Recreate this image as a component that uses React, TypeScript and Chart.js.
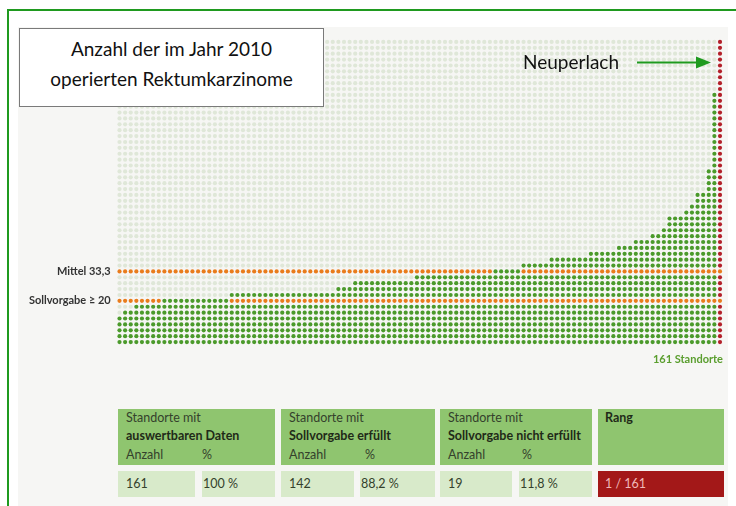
import React, { useEffect, useRef } from "react";
import { Chart, registerables } from "chart.js";

Chart.register(...registerables);

// ---- data ----
// height (number of dots) of each column, left to right; last column = Neuperlach
const columnHeights = [
  5, 6, 6, 7, 7, 7, 7, 7, 8, 8,
  8, 8, 8, 8, 8, 8, 8, 8, 8, 8,
  9, 9, 9, 9, 9, 9, 9, 9, 9, 9,
  9, 9, 9, 9, 9, 9, 9, 9, 9, 10,
  10, 10, 11, 11, 11, 11, 11, 11, 11, 11,
  11, 11, 11, 12, 12, 12, 12, 12, 12, 12,
  12, 12, 12, 12, 12, 12, 12, 13, 13, 13,
  13, 13, 14, 14, 14, 14, 14, 15, 15, 15,
  15, 15, 15, 15, 16, 16, 16, 16, 16, 17,
  17, 17, 18, 18, 18, 19, 19, 20, 22, 22,
  22, 23, 24, 26, 26, 30, 43, 52,
];
const highlightColumn = 107;
const gridRows = 52;
const lineRows = [7, 12];
const lineLabels = ["Sollvorgabe ≥ 20", "Mittel 33,3"];
const highlightLabel = "Neuperlach";
const highlightLabelRow = 47.5;
const siteCountLabel = "161 Standorte";
const titleLines = ["Anzahl der im Jahr 2010", "operierten Rektumkarzinome"];

const headerTitles = ["auswertbaren Daten", "Sollvorgabe erfüllt", "Sollvorgabe nicht erfüllt"];
const headerPrefix = "Standorte mit";
const countLabel = "Anzahl";
const percentLabel = "%";
const rankLabel = "Rang";
const counts = ["161", "142", "19"];
const percents = ["100 %", "88,2 %", "11,8 %"];
const rankValue = "1 / 161";

const COLORS = {
  faint: "#dfe7d8",
  green: "#4b9a2b",
  orange: "#e97c1c",
  red: "#b3202a",
};

function buildPoints() {
  const faint: { x: number; y: number }[] = [];
  const green: { x: number; y: number }[] = [];
  const orange: { x: number; y: number }[] = [];
  const red: { x: number; y: number }[] = [];
  columnHeights.forEach((h, c) => {
    for (let r = 0; r < gridRows; r++) {
      const p = { x: c, y: r };
      const isLine = lineRows.includes(r);
      if (isLine && r !== h - 1) orange.push(p);
      else if (c === highlightColumn && r < h) red.push(p);
      else if (r < h) green.push(p);
      else faint.push(p);
    }
  });
  return { faint, green, orange, red };
}

const annotationPlugin = {
  id: "neuperlachArrow",
  afterDraw(chart: any) {
    const { ctx, scales } = chart;
    const xs = scales.x;
    const ys = scales.y;
    const y = ys.getPixelForValue(highlightLabelRow);
    const xEnd = xs.getPixelForValue(highlightColumn) - 9;
    const xStart = xEnd - 74;
    ctx.save();
    ctx.strokeStyle = "#1f9a1f";
    ctx.fillStyle = "#1f9a1f";
    ctx.lineWidth = 2;
    ctx.beginPath();
    ctx.moveTo(xStart, y);
    ctx.lineTo(xEnd - 12, y);
    ctx.stroke();
    ctx.beginPath();
    ctx.moveTo(xEnd, y);
    ctx.lineTo(xEnd - 15, y - 6);
    ctx.lineTo(xEnd - 15, y + 6);
    ctx.closePath();
    ctx.fill();
    ctx.fillStyle = "#111";
    ctx.font = "19px Lato, 'Open Sans', sans-serif";
    ctx.textAlign = "right";
    ctx.textBaseline = "middle";
    ctx.fillText(highlightLabel, xStart - 18, y);
    ctx.fillStyle = "#5a9e2e";
    ctx.font = "bold 11px Lato, 'Open Sans', sans-serif";
    ctx.fillText(siteCountLabel, xs.getPixelForValue(highlightColumn) + 3, ys.bottom + 14);
    ctx.restore();
  },
};

function DotChart() {
  const ref = useRef<HTMLCanvasElement>(null);
  useEffect(() => {
    if (!ref.current) return;
    const pts = buildPoints();
    const mk = (data: any[], color: string) => ({
      data,
      pointRadius: 2.1,
      pointHoverRadius: 2.1,
      pointBackgroundColor: color,
      pointBorderWidth: 0,
      borderWidth: 0,
      showLine: false,
    });
    const chart = new Chart(ref.current, {
      type: "scatter",
      data: {
        datasets: [
          mk(pts.faint, COLORS.faint),
          mk(pts.green, COLORS.green),
          mk(pts.orange, COLORS.orange),
          mk(pts.red, COLORS.red),
        ],
      },
      options: {
        responsive: false,
        animation: false,
        devicePixelRatio: 1,
        layout: { padding: { left: 0, right: 13.2, top: 39, bottom: 161 } },
        plugins: { legend: { display: false }, tooltip: { enabled: false } },
        events: [],
        scales: {
          x: { type: "linear", min: -0.5, max: columnHeights.length - 0.5, display: false },
          y: {
            type: "linear",
            min: -0.5,
            max: gridRows - 0.5,
            grid: { display: false, drawTicks: false },
            border: { display: false },
            afterFit: (s: any) => {
              s.width = 116.7;
            },
            afterBuildTicks: (s: any) => {
              s.ticks = lineRows.map((v) => ({ value: v }));
            },
            ticks: {
              padding: 6,
              color: "#333",
              font: { family: "Lato, 'Open Sans', sans-serif", size: 11, weight: "bold" },
              callback: (v: any) => {
                const i = lineRows.indexOf(Number(v));
                return i >= 0 ? lineLabels[i] : "";
              },
            },
          },
        },
      },
      plugins: [annotationPlugin],
    });
    return () => chart.destroy();
  }, []);
  return (
    <canvas
      ref={ref}
      width={736}
      height={506}
      style={{ position: "absolute", left: 0, top: 0, width: 736, height: 506 }}
    />
  );
}

const font = "Lato, 'Open Sans', sans-serif";

function Cell(props: { left: number; top: number; width: number; height: number; bg: string; children?: any }) {
  return (
    <div
      style={{
        position: "absolute",
        left: props.left,
        top: props.top,
        width: props.width,
        height: props.height,
        background: props.bg,
      }}
    >
      {props.children}
    </div>
  );
}

function Txt(props: { left: number; top: number; text: string; bold?: boolean; color?: string; size?: number }) {
  return (
    <div
      style={{
        position: "absolute",
        left: props.left,
        top: props.top,
        fontFamily: font,
        fontSize: props.size || 12,
        lineHeight: "16px",
        fontWeight: props.bold ? 700 : 400,
        color: props.color || "#34412c",
        whiteSpace: "nowrap",
      }}
    >
      {props.text}
    </div>
  );
}

export default function App() {
  const headerLefts = [118, 281, 440];
  const headerWidths = [157, 154, 152];
  const pctOffsets = [84, 84, 82];
  const valueCells = [
    [118, 77],
    [202, 73],
    [281, 73],
    [360, 75],
    [440, 72],
    [519, 73],
  ];
  return (
    <div style={{ position: "absolute", left: 0, top: 0, width: 736, height: 506, background: "#fff", overflow: "hidden" }}>
      <div style={{ position: "absolute", left: 18, top: 27, width: 710, height: 479, background: "#f6f6f4" }} />
      <div
        style={{
          position: "absolute",
          left: 7,
          top: 9,
          width: 740,
          height: 510,
          borderTop: "2px solid #1f9a1f",
          borderLeft: "2px solid #1f9a1f",
        }}
      />
      {headerLefts.map((l, i) => (
        <Cell key={"h" + i} left={l} top={409} width={headerWidths[i]} height={56} bg="#8fc56f">
          <Txt left={8} top={1} text={headerPrefix} size={12.5} />
          <Txt left={8} top={19} text={headerTitles[i]} bold color="#1f2a18" size={12.5} />
          <Txt left={8} top={38} text={countLabel} size={12.5} />
          <Txt left={pctOffsets[i]} top={38} text={percentLabel} size={12.5} />
        </Cell>
      ))}
      <Cell left={598} top={409} width={126} height={56} bg="#8fc56f">
        <Txt left={7} top={1} text={rankLabel} bold color="#1f2a18" size={12.5} />
      </Cell>
      {valueCells.map((v, i) => (
        <Cell key={"v" + i} left={v[0]} top={471} width={v[1]} height={26} bg="#d8eaca">
          <Txt
            left={i % 2 === 0 ? 8 : 1}
            top={5}
            size={12.5}
            text={i % 2 === 0 ? counts[i / 2] : percents[(i - 1) / 2]}
          />
        </Cell>
      ))}
      <Cell left={598} top={471} width={126} height={26} bg="#a31818">
        <Txt left={7} top={5} text={rankValue} color="#f0b8b8" size={12.5} />
      </Cell>
      <DotChart />
      <div
        style={{
          position: "absolute",
          left: 19,
          top: 28,
          width: 305,
          height: 79,
          boxSizing: "border-box",
          border: "1px solid #7a7a7a",
          background: "#fff",
          fontFamily: font,
          fontSize: 19,
          lineHeight: "30px",
          color: "#111",
          textAlign: "center",
          paddingTop: 5,
        }}
      >
        <div>{titleLines[0]}</div>
        <div>{titleLines[1]}</div>
      </div>
    </div>
  );
}
